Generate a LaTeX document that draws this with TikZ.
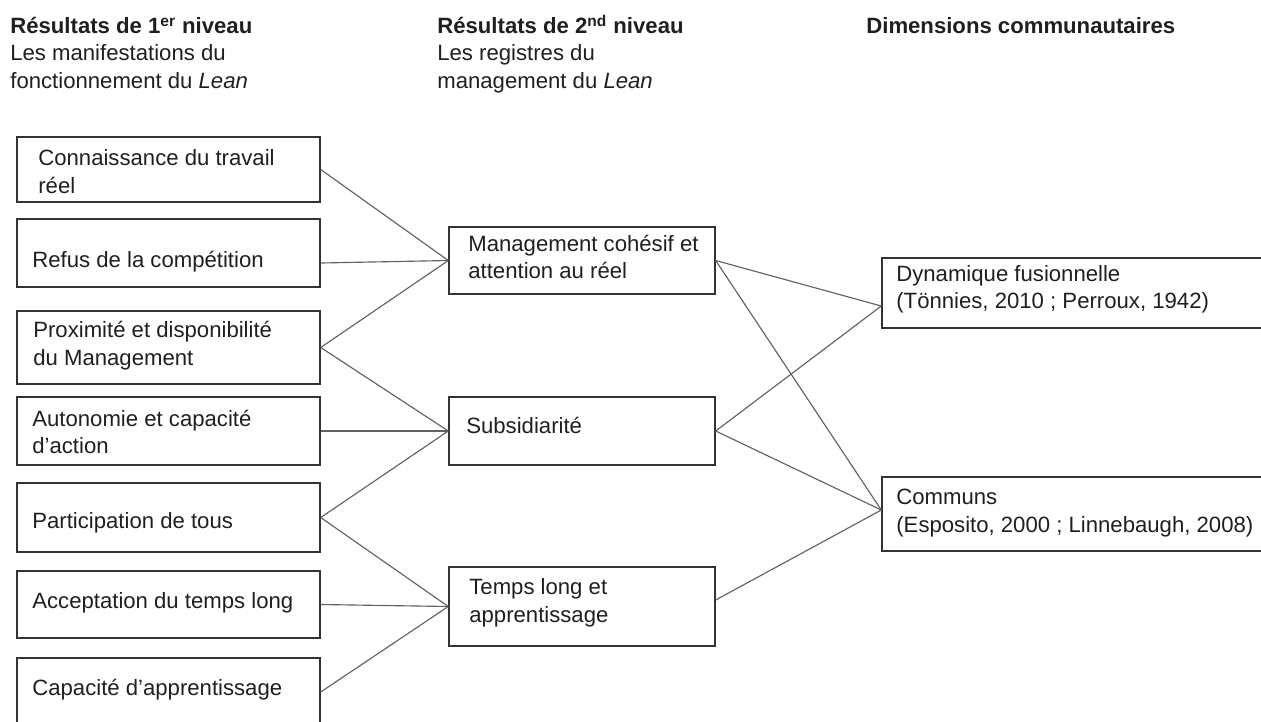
\documentclass[tikz,border=0pt]{standalone}
\usepackage{fontspec}
\setmainfont{Liberation Sans}
\usetikzlibrary{calc,positioning}
\tikzset{
  res/.style={rectangle,draw=black!80,line width=0.8pt,inner sep=0pt,minimum width=6.06cm},
  mid/.style={res,minimum width=5.32cm},
  dim/.style={res,minimum width=7.76cm},
  txt/.style={anchor=base west,inner sep=0pt,align=left,text=black!88,font=\fontsize{12.6}{15.4}\selectfont},
  head/.style={txt,font=\fontsize{12.6}{15.4}\selectfont},
  link/.style={line width=0.65pt,black!62},
}

\begin{document}
\begin{tikzpicture}
  \useasboundingbox (0,0) rectangle (25.22,-14.42);
  \clip (0,0) rectangle (25.22,-14.42);
  % column heads (base = last line)
  \node[head](h1) at (0.20,-1.76){\textbf{Résultats de 1\textsuperscript{er} niveau}\\Les manifestations du\\fonctionnement du \textit{Lean}};
  \node[head](h2) at (8.74,-1.76){\textbf{Résultats de 2\textsuperscript{nd} niveau}\\Les registres du\\management du \textit{Lean}};
  \node[head](h3) at (17.32,-0.66){\textbf{Dimensions communautaires}};
  % first level
  \node[res,minimum height=1.30cm](l1) at (3.37,-3.39){}; \node[res,minimum height=1.36cm](l2) at (3.37,-5.06){};
  \node[res,minimum height=1.46cm](l3) at (3.37,-6.95){}; \node[res,minimum height=1.36cm](l4) at (3.37,-8.62){};
  \node[res,minimum height=1.38cm](l5) at (3.37,-10.35){}; \node[res,minimum height=1.34cm](l6) at (3.37,-12.09){};
  \node[res,minimum height=1.36cm](l7) at (3.37,-13.84){};
  \node[txt](t1) at (0.76,-3.86){Connaissance du travail\\réel};
  \node[txt](t2) at (0.64,-5.34){Refus de la compétition};
  \node[txt](t3) at (0.66,-7.30){Proximité et disponibilité\\du Management};
  \node[txt](t4) at (0.64,-9.07){Autonomie et capacité\\d’action};
  \node[txt](t5) at (0.64,-10.56){Participation de tous};
  \node[txt](t6) at (0.64,-12.16){Acceptation du temps long};
  \node[txt](t7) at (0.64,-13.90){Capacité d’apprentissage};
  % second level
  \node[mid,minimum height=1.34cm](m1) at (11.64,-5.21){};
  \node[mid,minimum height=1.36cm](m2) at (11.64,-8.62){};
  \node[mid,minimum height=1.58cm](m3) at (11.64,-12.13){};
  \node[txt](tm1) at (9.36,-5.57){Management cohésif et\\attention au réel};
  \node[txt](tm2) at (9.32,-8.66){Subsidiarité};
  \node[txt](tm3) at (9.38,-12.44){Temps long et\\apprentissage};
  % dimensions
  \node[dim,minimum height=1.40cm](r1) at (21.52,-5.86){};
  \node[dim,minimum height=1.48cm](r2) at (21.52,-10.28){};
  \node[txt](tr1) at (17.92,-6.17){Dynamique fusionnelle\\(Tönnies, 2010 ; Perroux, 1942)};
  \node[txt](tr2) at (17.92,-10.64){Communs\\(Esposito, 2000 ; Linnebaugh, 2008)};
  % links
  \coordinate (l2o) at ([yshift=-0.2cm]l2.east);
  \coordinate (m3o) at ([yshift=0.13cm]m3.east);
  \coordinate (r1i) at ([yshift=-0.26cm]r1.west);
  \coordinate (r2i) at ([yshift=0.08cm]r2.west);
  \foreach \a/\b in {l1.east/m1.west,l2o/m1.west,l3.east/m1.west,l3.east/m2.west,l4.east/m2.west,
    l5.east/m2.west,l5.east/m3.west,l6.east/m3.west,l7.east/m3.west,
    m1.east/r1i,m1.east/r2i,m2.east/r1i,m2.east/r2i,m3o/r2i}
    {\draw[link] (\a)--(\b);}
\end{tikzpicture}
\end{document}
